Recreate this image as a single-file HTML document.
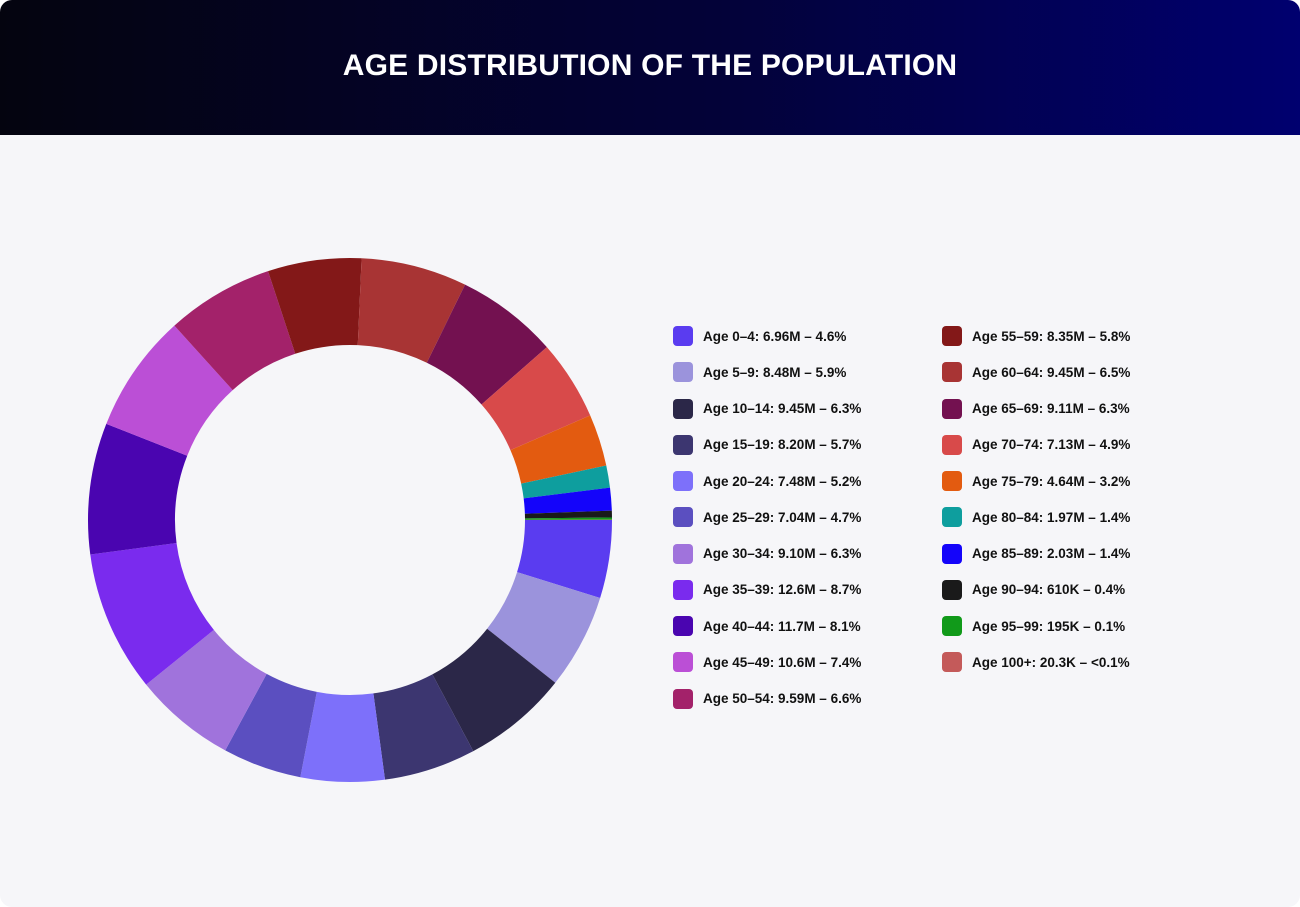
<!DOCTYPE html>
<html><head><meta charset="utf-8"><style>
html,body{margin:0;padding:0;background:#fff;}
#card{position:relative;width:1300px;height:907px;border-radius:12px;overflow:hidden;background:#f6f6f9;font-family:"Liberation Sans",sans-serif;}
#hdr{position:absolute;left:0;top:0;width:1300px;height:135px;background:linear-gradient(90deg,#04040f 0%,#030238 55%,#00006f 100%);}
#hdr h1{margin:0;position:absolute;left:0;right:0;top:49px;text-align:center;color:#fff;font-size:30px;font-weight:bold;letter-spacing:0.2px;}
.leg{position:absolute;display:flex;align-items:center;font-size:13.5px;font-weight:bold;color:#111;white-space:nowrap;}
.sw{width:20px;height:20px;border-radius:4px;margin-right:10px;}
</style></head><body>
<div id="card">
<div id="hdr"><h1>AGE DISTRIBUTION OF THE POPULATION</h1></div>
<svg id="donut" width="1300" height="907" style="position:absolute;left:0;top:0"></svg>
<div id="legend"></div>
</div>
<script>
const categories=["Age 0–4","Age 5–9","Age 10–14","Age 15–19","Age 20–24","Age 25–29","Age 30–34","Age 35–39","Age 40–44","Age 45–49","Age 50–54","Age 55–59","Age 60–64","Age 65–69","Age 70–74","Age 75–79","Age 80–84","Age 85–89","Age 90–94","Age 95–99","Age 100+"];
const values=[6.96,8.48,9.45,8.20,7.48,7.04,9.10,12.6,11.7,10.6,9.59,8.35,9.45,9.11,7.13,4.64,1.97,2.03,0.610,0.195,0.0203];
const valueLabels=["6.96M","8.48M","9.45M","8.20M","7.48M","7.04M","9.10M","12.6M","11.7M","10.6M","9.59M","8.35M","9.45M","9.11M","7.13M","4.64M","1.97M","2.03M","610K","195K","20.3K"];
const pctLabels=["4.6%","5.9%","6.3%","5.7%","5.2%","4.7%","6.3%","8.7%","8.1%","7.4%","6.6%","5.8%","6.5%","6.3%","4.9%","3.2%","1.4%","1.4%","0.4%","0.1%","<0.1%"];
const colors=["#5a3cf0","#9b93dc","#2b2748","#3c3670","#7d70fa","#5b4fc0","#a073dc","#7a2bee","#4a05b0","#bb4fd6","#a3226a","#831818","#a83434","#731150","#d84a4a","#e35b10","#0e9e9e","#1404fa","#1a1a1a","#119a1a","#c45a5a"];
const cx=350,cy=520,R=262,r=175;
const svg=document.getElementById('donut');
const NS="http://www.w3.org/2000/svg";
const total=values.reduce((a,b)=>a+b,0);
function angle(v){return v/total*2*Math.PI;}
function pt(rad,a){return [cx+rad*Math.cos(a),cy+rad*Math.sin(a)];}
let a0=0;
values.forEach((v,i)=>{
  const a1=a0+angle(v);
  const large=(a1-a0)>Math.PI?1:0;
  const p1=pt(R,a0),p2=pt(R,a1),p3=pt(r,a1),p4=pt(r,a0);
  const d=`M${p1[0]},${p1[1]} A${R},${R} 0 ${large} 1 ${p2[0]},${p2[1]} L${p3[0]},${p3[1]} A${r},${r} 0 ${large} 0 ${p4[0]},${p4[1]} Z`;
  const path=document.createElementNS(NS,'path');
  path.setAttribute('d',d);
  path.setAttribute('fill',colors[i]);
  
  
  svg.appendChild(path);
  a0=a1;
});
const leg=document.getElementById('legend');
categories.forEach((c,i)=>{
  const col=i<11?0:1,row=i<11?i:i-11;
  const e=document.createElement('div');
  e.className='leg';
  e.style.left=(col?942:673)+'px';
  e.style.top=(326+row*36.25)+'px';
  
  
  const s=document.createElement('div');
  s.className='sw';s.style.background=colors[i];
  
  
  const t=document.createElement('span');
  t.textContent=c+': '+valueLabels[i]+' – '+pctLabels[i];
  
  
  e.appendChild(s);e.appendChild(t);leg.appendChild(e);
});
</script>
</body></html>
